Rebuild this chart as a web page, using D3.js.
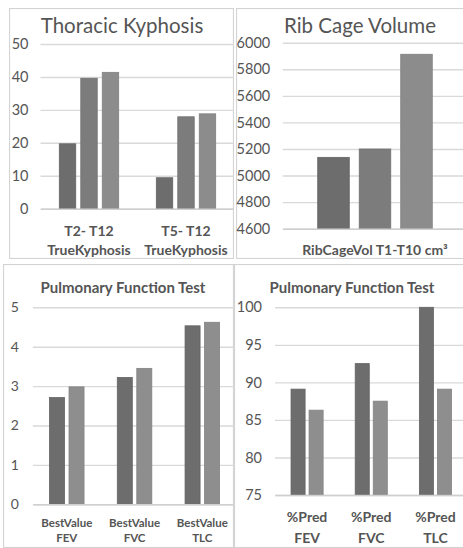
<!DOCTYPE html>
<html>
<head>
<meta charset="utf-8">
<script src="https://cdn.jsdelivr.net/npm/d3@7"></script>
<style>
  html, body { margin: 0; padding: 0; background: #ffffff; }
  svg { display: block; }
</style>
</head>
<body>
<svg id="chart" width="463" height="548"></svg>
<script>
// ---------- DATA ----------
const kyphosisCategories = [["T2- T12", "TrueKyphosis"], ["T5- T12", "TrueKyphosis"]];
const kyphosisSeriesA = [19.7, 9.4];
const kyphosisSeriesB = [39.6, 27.9];
const kyphosisSeriesC = [41.4, 28.8];
const kyphosisTicks = [0, 10, 20, 30, 40, 50];

const ribCategories = [["RibCageVol T1-T10 cm³"]];
const ribSeriesA = [5137];
const ribSeriesB = [5200];
const ribSeriesC = [5913];
const ribTicks = [4600, 4800, 5000, 5200, 5400, 5600, 5800, 6000];

const pftBestCategories = [["BestValue", "FEV"], ["BestValue", "FVC"], ["BestValue", "TLC"]];
const pftBestSeriesA = [2.71, 3.22, 4.53];
const pftBestSeriesB = [2.98, 3.45, 4.62];
const pftBestTicks = [0, 1, 2, 3, 4, 5];

const pftPredCategories = [["%Pred", "FEV"], ["%Pred", "FVC"], ["%Pred", "TLC"]];
const pftPredSeriesA = [89.1, 92.5, 100];
const pftPredSeriesB = [86.3, 87.5, 89.1];
const pftPredTicks = [75, 80, 85, 90, 95, 100];

// ---------- DRAWING ----------
const svg = d3.select("#chart");
const FONT = "Lato, 'Open Sans', 'DejaVu Sans', sans-serif";
const TEXT = "#555555";
const GRID = "#d9d9d9";

function drawPanel(cfg, idx) {
  const clipId = "clip" + idx;
  svg.append("clipPath").attr("id", clipId)
    .append("rect")
    .attr("x", cfg.panel[0]).attr("y", cfg.panel[1])
    .attr("width", cfg.panel[2] - cfg.panel[0]).attr("height", cfg.panel[3] - cfg.panel[1]);

  const g = svg.append("g").attr("clip-path", `url(#${clipId})`);

  // panel border
  g.append("rect")
    .attr("x", cfg.panel[0] + 0.5).attr("y", cfg.panel[1] + 0.5)
    .attr("width", cfg.panel[2] - cfg.panel[0] - 1).attr("height", cfg.panel[3] - cfg.panel[1] - 1)
    .attr("fill", "#ffffff").attr("stroke", "#d4d4d4").attr("stroke-width", 1.2);

  const y = d3.scaleLinear().domain(cfg.yDomain).range(cfg.yRange);
  const x0 = d3.scaleBand().domain(d3.range(cfg.categories.length))
    .range(cfg.xRange).paddingInner(0).paddingOuter(0);
  const x1 = d3.scaleBand().domain(d3.range(cfg.series.length))
    .range([0, x0.bandwidth()]).paddingInner(cfg.pInner).paddingOuter(cfg.pOuter);

  // y axis with gridlines
  const yAxis = d3.axisLeft(y).tickValues(cfg.ticks)
    .tickSize(-(cfg.xRange[1] - cfg.xRange[0]))
    .tickPadding(cfg.tickPad)
    .tickFormat(d3.format("d"));
  const ya = g.append("g").attr("transform", `translate(${cfg.xRange[0]},0)`).call(yAxis);
  ya.select(".domain").remove();
  ya.selectAll(".tick line").attr("stroke", GRID).attr("stroke-width", 1.4);
  ya.selectAll(".tick text")
    .attr("fill", TEXT).style("font-family", FONT).style("font-size", cfg.tickSize + "px");

  // bars
  cfg.series.forEach((vals, si) => {
    g.append("g").selectAll("rect").data(vals).join("rect")
      .attr("x", (d, i) => x0(i) + x1(si))
      .attr("width", x1.bandwidth())
      .attr("y", d => y(d))
      .attr("height", d => y(cfg.yDomain[0]) - y(d))
      .attr("fill", cfg.colors[si])
      .attr("stroke", d3.color(cfg.colors[si]).darker(0.25))
      .attr("stroke-width", 0.8);
  });

  // x axis (category labels)
  const xAxis = d3.axisBottom(x0).tickSize(0).tickFormat(() => "");
  const xa = g.append("g").attr("transform", `translate(0,${y(cfg.yDomain[0])})`).call(xAxis);
  xa.select(".domain").attr("stroke", "#cfcfcf").attr("stroke-width", 1.4);
  xa.selectAll(".tick text").remove();
  xa.selectAll(".tick").each(function(d) {
    const t = d3.select(this).append("text")
      .attr("text-anchor", "middle")
      .attr("fill", TEXT)
      .style("font-family", FONT)
      .style("font-weight", "bold")
      .style("font-size", cfg.catSize + "px");
    cfg.categories[d].forEach((line, li) => {
      t.append("tspan").attr("x", 0)
        .attr("y", cfg.catY[li] - y(cfg.yDomain[0]))
        .attr("dy", "0.35em")
        .text(line);
    });
  });

  // title
  g.append("text")
    .attr("x", cfg.titleX).attr("y", cfg.titleY)
    .attr("text-anchor", "middle")
    .attr("fill", TEXT)
    .style("font-family", FONT)
    .style("font-size", cfg.titleSize + "px")
    .style("font-weight", cfg.titleWeight)
    .text(cfg.title);
}

const panels = [
  {
    panel: [9, 8, 234, 259], xRange: [40.5, 234.5], yDomain: [0, 50], yRange: [208.7, 44],
    categories: kyphosisCategories, series: [kyphosisSeriesA, kyphosisSeriesB, kyphosisSeriesC],
    colors: ["#6d6d6d", "#7c7c7c", "#8c8c8c"], pInner: 0.235, pOuter: 0.876,
    ticks: kyphosisTicks, tickPad: 12, tickSize: 14.5,
    catY: [230.7, 250], catSize: 14,
    title: "Thoracic Kyphosis", titleX: 122, titleY: 33, titleSize: 20.5, titleWeight: "normal"
  },
  {
    panel: [236, 8, 480, 259], xRange: [282.7, 467.3], yDomain: [4600, 6000], yRange: [228.7, 42.7],
    categories: ribCategories, series: [ribSeriesA, ribSeriesB, ribSeriesC],
    colors: ["#6d6d6d", "#7c7c7c", "#8c8c8c"], pInner: 0.24, pOuter: 0.844,
    ticks: ribTicks, tickPad: 12.5, tickSize: 14.5,
    catY: [250], catSize: 14,
    title: "Rib Cage Volume", titleX: 360, titleY: 33, titleSize: 20.5, titleWeight: "normal"
  },
  {
    panel: [3, 264, 234, 548], xRange: [32.9, 236.2], yDomain: [0, 5], yRange: [504.3, 307.3],
    categories: pftBestCategories, series: [pftBestSeriesA, pftBestSeriesB],
    colors: ["#6d6d6d", "#8e8e8e"], pInner: 0.23, pOuter: 0.852,
    ticks: pftBestTicks, tickPad: 14, tickSize: 14,
    catY: [522.7, 538.3], catSize: 11.5,
    title: "Pulmonary Function Test", titleX: 123, titleY: 293, titleSize: 15, titleWeight: "bold"
  },
  {
    panel: [234, 264, 480, 548], xRange: [275, 467.5], yDomain: [75, 100], yRange: [495, 307.3],
    categories: pftPredCategories, series: [pftPredSeriesA, pftPredSeriesB],
    colors: ["#6d6d6d", "#8e8e8e"], pInner: 0.22, pOuter: 0.89,
    ticks: pftPredTicks, tickPad: 13, tickSize: 14.5,
    catY: [517.3, 537.7], catSize: 14,
    title: "Pulmonary Function Test", titleX: 352, titleY: 293, titleSize: 15, titleWeight: "bold"
  }
];

panels.forEach(drawPanel);
</script>
</body>
</html>
